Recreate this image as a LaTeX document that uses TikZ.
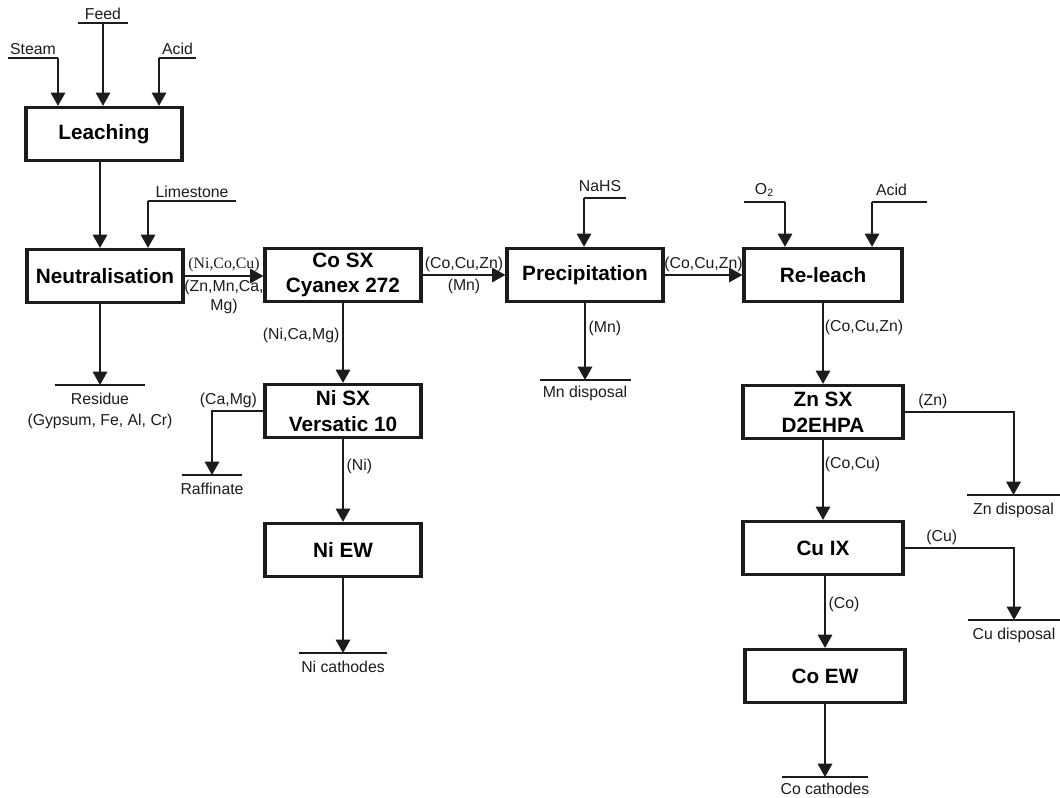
\documentclass[tikz,border=0pt]{standalone}
\usepackage{fontspec}
\setmainfont{Liberation Sans}
\newfontfamily\timesfont{Liberation Serif}
\usepackage{tikz}
\usetikzlibrary{arrows.meta,positioning,calc}
\definecolor{inkline}{HTML}{1C1C1C}
\tikzset{
  unit/.style={draw=inkline, line width=1.8pt, minimum width=3.12cm, minimum height=1.06cm, align=center, font=\fontsize{11.8}{14.6}\selectfont\bfseries, inner sep=2pt},
  tap/.style={inner sep=0pt, outer sep=0pt, minimum height=0pt},
  sinktext/.style={yshift=-2.6pt},
  bar/.style={draw=inkline, line width=0.75pt},
  flow/.style={-{Triangle[length=7.6pt,width=8.2pt]}, line width=1.15pt, draw=inkline},
  note/.style={font=\fontsize{9}{10.8}\selectfont, inner sep=1.5pt, text=inkline, align=center},
  every label/.append style={font=\fontsize{9}{12.5}\selectfont, inner sep=1.5pt, align=center, text=inkline}
}

\begin{document}
\begin{tikzpicture}[x=0.02cm, y=-0.02cm]
  \useasboundingbox (0,0) rectangle (1060,797);
  % process units
  \node[unit] (leach) at (104,134) {Leaching};
  \node[unit] (neut) at (105,276) {Neutralisation};
  \node[unit] (cosx) at (343,275) {Co SX\\Cyanex 272};
  \node[unit] (nisx) at (343,411) {Ni SX\\Versatic 10};
  \node[unit] (niew) at (343,550) {Ni EW};
  \node[unit] (prec) at (585,275) {Precipitation};
  \node[unit, minimum width=3.16cm] (relch) at (823,275) {Re-leach};
  \node[unit, minimum width=3.2cm] (znsx) at (823,412) {Zn SX\\D2EHPA};
  \node[unit, minimum width=3.2cm] (cuix) at (823,548) {Cu IX};
  \node[unit, minimum width=3.2cm] (coew) at (825,676) {Co EW};
  % feeds
  \node[tap, minimum width=1.0cm, label=above:Steam] (steam) at (33,58) {};
  \node[tap, minimum width=1.0cm, label=above:Feed] (feed) at (103,23) {};
  \node[tap, minimum width=0.74cm, label=above:Acid] (acid) at (177.5,58) {};
  \node[tap, minimum width=1.76cm, label=above:Limestone] (lime) at (192,201) {};
  \node[tap, minimum width=0.84cm, label={[inner sep=3.5pt, xshift=-0.1cm]above:NaHS}] (nahs) at (605,198) {};
  \node[tap, minimum width=0.82cm, label={[inner sep=3pt]above:O\textsubscript{2}}] (oxy) at (764.5,202) {};
  \node[tap, minimum width=1.1cm, label={[inner sep=3.5pt, xshift=-0.16cm]above:Acid}] (acidb) at (899.5,202) {};
  % products and wastes
  \node[tap, minimum width=1.82cm, label={[sinktext]below:{Residue\\(Gypsum, Fe, Al, Cr)}}] (residue) at (100,385) {};
  \node[tap, minimum width=1.2cm, label={[sinktext]below:Raffinate}] (raff) at (212,475) {};
  \node[tap, minimum width=1.78cm, label={[sinktext]below:Ni cathodes}] (nicath) at (343,653) {};
  \node[tap, minimum width=1.82cm, label={[sinktext, yshift=1pt]below:Mn disposal}] (mndisp) at (585,380) {};
  \node[tap, minimum width=1.86cm, label={[sinktext]below:Zn disposal}] (zndisp) at (1013.5,495) {};
  \node[tap, minimum width=1.86cm, label={[sinktext]below:Cu disposal}] (cudisp) at (1014,620) {};
  \node[tap, minimum width=1.72cm, label={[sinktext, yshift=1pt]below:Co cathodes}] (cocath) at (825,777) {};
  \draw[bar] (steam.west) -- (steam.east);
  \draw[bar] (feed.west) -- (feed.east);
  \draw[bar] (acid.west) -- (acid.east);
  \draw[bar] (lime.west) -- (lime.east);
  \draw[bar] (nahs.west) -- (nahs.east);
  \draw[bar] (oxy.west) -- (oxy.east);
  \draw[bar] (acidb.west) -- (acidb.east);
  \draw[bar] (residue.west) -- (residue.east);
  \draw[bar] (raff.west) -- (raff.east);
  \draw[bar] (nicath.west) -- (nicath.east);
  \draw[bar] (mndisp.west) -- (mndisp.east);
  \draw[bar] (zndisp.west) -- (zndisp.east);
  \draw[bar] (cudisp.west) -- (cudisp.east);
  \draw[bar] (cocath.west) -- (cocath.east);
  % reagents in
  \draw[flow] (steam.east) -- (steam.east |- leach.north);
  \draw[flow] (feed) -- (feed |- leach.north);
  \draw[flow] (acid.west) -- (acid.west |- leach.north);
  \draw[flow] (lime.west) -- (lime.west |- neut.north);
  \draw[flow] (nahs.west) -- (nahs.west |- prec.north);
  \draw[flow] (oxy.east) -- (oxy.east |- relch.north);
  \draw[flow] (acidb.west) -- (acidb.west |- relch.north);
  % main streams
  \draw[flow] (leach.south -| residue) -- (neut.north -| residue);
  \draw[flow] (neut.south -| residue) -- (residue);
  \draw[flow] (neut.east) -- node[note, above, font=\timesfont\fontsize{9}{10.8}\selectfont] {(Ni,Co,Cu)} node[note, below] {(Zn,Mn,Ca,\\Mg)} (neut.east -| cosx.west);
  \draw[flow] (cosx) -- node[note, above] {(Co,Cu,Zn)} node[note, below] {(Mn)} (prec);
  \draw[flow] (prec) -- node[note, above] {(Co,Cu,Zn)} (relch);
  \draw[flow] (cosx) -- node[note, left, pos=0.4] {(Ni,Ca,Mg)} (nisx);
  \draw[flow] (nisx.west) -| node[note, above, pos=0.34] {(Ca,Mg)} (raff);
  \draw[flow] (nisx) -- node[note, right, pos=0.33] {(Ni)} (niew);
  \draw[flow] (niew) -- (nicath);
  \draw[flow] (prec) -- node[note, right, pos=0.33] {(Mn)} (mndisp);
  \draw[flow] (relch) -- node[note, right, pos=0.3, inner sep=0.5pt] {(Co,Cu,Zn)} (znsx);
  \draw[flow] (znsx.east) -| node[note, above, pos=0.13] {(Zn)} (zndisp);
  \draw[flow] (znsx) -- node[note, right, pos=0.3, inner sep=0.5pt] {(Co,Cu)} (cuix);
  \draw[flow] (cuix.east) -| node[note, above, pos=0.17] {(Cu)} (cudisp);
  \draw[flow] (cuix.south -| cocath) -- node[note, right, pos=0.4] {(Co)} (coew.north -| cocath);
  \draw[flow] (coew.south -| cocath) -- (cocath);
\end{tikzpicture}
\end{document}
